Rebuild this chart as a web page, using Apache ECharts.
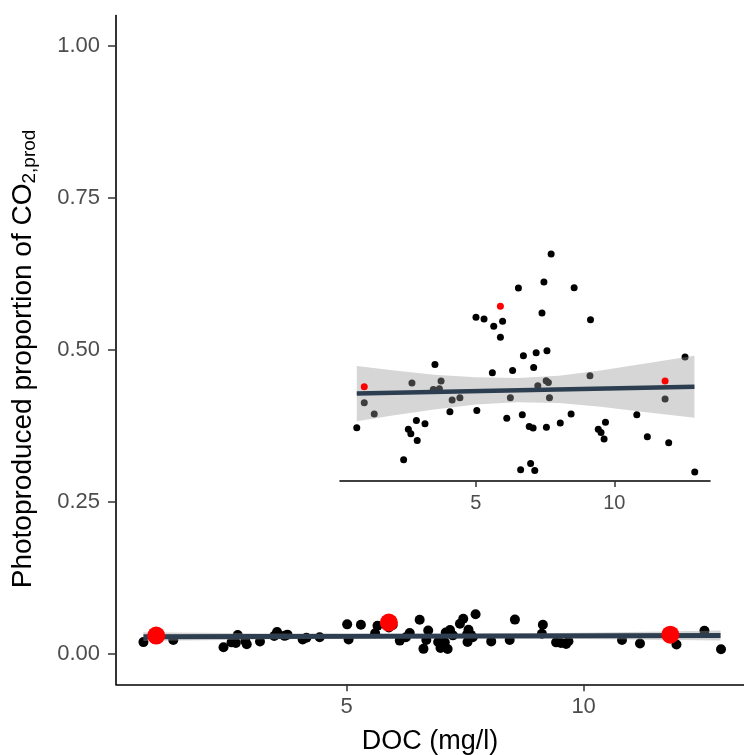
<!DOCTYPE html>
<html><head><meta charset="utf-8">
<script src="https://cdn.jsdelivr.net/npm/echarts@6/dist/echarts.min.js"></script>
<style>html,body{margin:0;padding:0;background:#fff}#c{width:744px;height:755px}</style>
</head><body><div id="c"></div>
<script>
const docValues = [7.72, 6.54, 7.46, 8.55, 5.01, 5.30, 5.97, 5.65, 7.39, 9.14,
  5.89, 6.72, 7.18, 7.57, 12.55, 3.53, 2.70, 3.75, 3.47, 3.69,
  0.98, 1.34, 4.15, 4.43, 4.07, 0.71, 2.86, 3.17, 2.57, 2.66,
  2.89, 2.40, 5.60, 6.33, 7.09, 9.12, 7.24, 7.54, 7.62, 6.25,
  7.66, 5.04, 6.12, 6.68, 6.93, 7.07, 7.55, 8.05, 8.44, 6.98,
  6.62, 7.13, 11.83, 10.81, 9.68, 9.42, 9.52, 9.63, 11.19, 11.96, 12.90];
const propValues = [0.0653, 0.0563, 0.0579, 0.0564, 0.0486, 0.0481, 0.0475, 0.0462, 0.0497, 0.0479,
  0.0433, 0.0384, 0.0392, 0.0397, 0.0381, 0.0361, 0.0312, 0.0317, 0.0295, 0.0297,
  0.0260, 0.0230, 0.0267, 0.0273, 0.0236, 0.0194, 0.0213, 0.0204, 0.0190, 0.0178,
  0.0160, 0.0109, 0.0339, 0.0345, 0.0353, 0.0331, 0.0305, 0.0318, 0.0313, 0.0273,
  0.0273, 0.0239, 0.0219, 0.0228, 0.0197, 0.0193, 0.0195, 0.0206, 0.0230, 0.0099,
  0.0083, 0.0081, 0.0270, 0.0228, 0.0208, 0.0190, 0.0181, 0.0164, 0.0170, 0.0154, 0.0077];
const redDoc = [0.98, 5.89, 11.83];
const redProp = [0.0302, 0.0515, 0.0317];
const fitDoc = [0.71, 12.89];
const fitProp = [0.0284, 0.0302];
const ribbonDoc = [0.71, 2.0, 3.5, 5.0, 6.5, 8.0, 9.5, 11.0, 12.89];
const ribbonLow = [0.0211, 0.0226, 0.0242, 0.0255, 0.0261, 0.0259, 0.0249, 0.0236, 0.0220];
const ribbonHigh = [0.0357, 0.0346, 0.0334, 0.0327, 0.0325, 0.0331, 0.0345, 0.0362, 0.0384];
const xTicks = [5, 10];
const yTicks = [0, 0.25, 0.5, 0.75, 1];

const FONT = 'Liberation Sans, Arial, sans-serif';
const zip = (a, b) => a.map((v, i) => [v, b[i]]);

function ribbon(idx) {
  return {
    type: 'custom', xAxisIndex: idx, yAxisIndex: idx, z: 3, silent: true,
    data: [0],
    renderItem: function (params, api) {
      const pts = [];
      for (let i = 0; i < ribbonDoc.length; i++) pts.push(api.coord([ribbonDoc[i], ribbonHigh[i]]));
      for (let i = ribbonDoc.length - 1; i >= 0; i--) pts.push(api.coord([ribbonDoc[i], ribbonLow[i]]));
      return { type: 'polygon', shape: { points: pts }, style: { fill: 'rgba(153,153,153,0.4)' } };
    }
  };
}

const chart = echarts.init(document.getElementById('c'), null, { renderer: 'canvas' });
chart.setOption({
  animation: false,
  backgroundColor: '#fff',
  grid: [
    { left: 116, right: 0, top: 15.6, bottom: 70.7, containLabel: false, outerBoundsMode: 'none' },
    { left: 340, right: 34, top: 243, bottom: 274, containLabel: false, outerBoundsMode: 'none' }
  ],
  xAxis: [
    {
      gridIndex: 0, type: 'value', min: 0.131, max: 13.385,
      splitLine: { show: false },
      axisLine: { show: true, onZero: false, lineStyle: { color: '#000', width: 1.6 } },
      axisTick: { show: true, customValues: xTicks, length: 7, lineStyle: { color: '#333', width: 1.5 } },
      axisLabel: { customValues: xTicks, color: '#4d4d4d', fontSize: 22, margin: 12, fontFamily: FONT },
      name: 'DOC (mg/l)', nameLocation: 'middle', nameGap: 44,
      nameTextStyle: { fontSize: 27, color: '#000', fontFamily: FONT }
    },
    {
      gridIndex: 1, type: 'value', min: 0.105, max: 13.45,
      splitLine: { show: false },
      axisLine: { show: true, onZero: false, lineStyle: { color: '#000', width: 1.6 } },
      axisTick: { show: true, customValues: xTicks, length: 6, lineStyle: { color: '#333', width: 1.5 } },
      axisLabel: { customValues: xTicks, color: '#4d4d4d', fontSize: 20, margin: 12, fontFamily: FONT }
    }
  ],
  yAxis: [
    {
      gridIndex: 0, type: 'value', min: -0.05, max: 1.05,
      splitLine: { show: false },
      axisLine: { show: true, onZero: false, lineStyle: { color: '#000', width: 1.6 } },
      axisTick: { show: true, customValues: yTicks, length: 8, lineStyle: { color: '#333', width: 1.5 } },
      axisLabel: { customValues: yTicks, color: '#4d4d4d', fontSize: 22, margin: 16, fontFamily: FONT,
        formatter: v => v.toFixed(2) },
      name: 'Photoproduced proportion of CO{sub|2,prod}', nameLocation: 'middle', nameGap: 77, nameRotate: 90,
      nameTextStyle: { fontSize: 28, color: '#000', fontFamily: FONT, lineHeight: 32, padding: [0, 18, 0, 0],
        rich: { sub: { fontSize: 19, color: '#000', fontFamily: FONT, lineHeight: 19, verticalAlign: 'bottom' } } }
    },
    {
      gridIndex: 1, type: 'value', min: 0.0053, max: 0.0682, show: false,
      splitLine: { show: false }
    }
  ],
  series: [
    { type: 'scatter', xAxisIndex: 0, yAxisIndex: 0, z: 2, data: zip(docValues, propValues),
      symbolSize: 10, itemStyle: { color: '#000', opacity: 1 }, silent: true },
    ribbon(0),
    { type: 'line', xAxisIndex: 0, yAxisIndex: 0, z: 4, data: zip(fitDoc, fitProp), symbol: 'none',
      lineStyle: { color: '#2c3e50', width: 5 }, silent: true },
    { type: 'scatter', xAxisIndex: 0, yAxisIndex: 0, z: 5, data: zip(redDoc, redProp),
      symbolSize: 18, itemStyle: { color: '#ff0000', opacity: 1 }, silent: true },

    { type: 'scatter', xAxisIndex: 1, yAxisIndex: 1, z: 2, data: zip(docValues, propValues),
      symbolSize: 7, itemStyle: { color: '#000', opacity: 1 }, silent: true },
    ribbon(1),
    { type: 'line', xAxisIndex: 1, yAxisIndex: 1, z: 4, data: zip(fitDoc, fitProp), symbol: 'none',
      lineStyle: { color: '#2c3e50', width: 4.5 }, silent: true },
    { type: 'scatter', xAxisIndex: 1, yAxisIndex: 1, z: 5, data: zip(redDoc, redProp),
      symbolSize: 7, itemStyle: { color: '#ff0000', opacity: 1 }, silent: true }
  ]
});
</script>
</body></html>
